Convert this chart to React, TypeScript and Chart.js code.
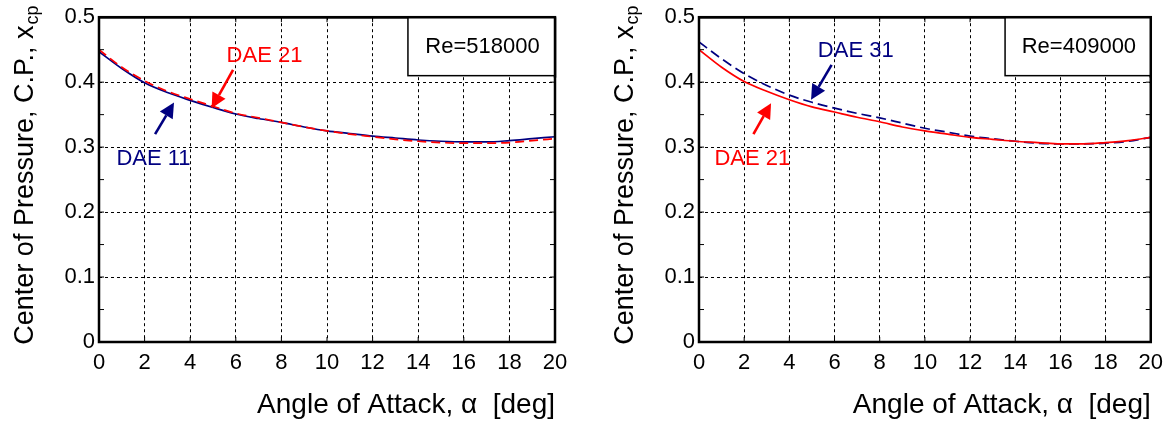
import React, { useEffect, useRef } from 'react';
import { Chart, registerables } from 'chart.js';

Chart.register(...registerables);

// ---- Data ----
const ALPHA = [0, 1, 2, 3, 4, 5, 6, 7, 8, 9, 10, 11, 12, 13, 14, 15, 16, 17, 18, 19, 20];
const CP_DAE11_RE518K = [0.447, 0.421, 0.399, 0.384, 0.372, 0.361, 0.351, 0.344, 0.338, 0.331, 0.325, 0.321, 0.317, 0.314, 0.311, 0.309, 0.308, 0.308, 0.310, 0.313, 0.316];
const CP_DAE21_RE518K = [0.450, 0.423, 0.402, 0.386, 0.374, 0.363, 0.352, 0.345, 0.338, 0.331, 0.325, 0.320, 0.316, 0.312, 0.309, 0.307, 0.306, 0.306, 0.307, 0.310, 0.313];
const CP_DAE21_RE409K = [0.450, 0.423, 0.401, 0.386, 0.373, 0.362, 0.354, 0.346, 0.339, 0.331, 0.325, 0.320, 0.315, 0.312, 0.309, 0.307, 0.305, 0.305, 0.307, 0.310, 0.315];
const CP_DAE31_RE409K = [0.462, 0.436, 0.413, 0.395, 0.380, 0.369, 0.360, 0.352, 0.345, 0.337, 0.329, 0.323, 0.317, 0.313, 0.309, 0.306, 0.305, 0.305, 0.306, 0.309, 0.315];
const X_TICKS = [0, 2, 4, 6, 8, 10, 12, 14, 16, 18, 20];
const Y_TICKS = [0, 0.1, 0.2, 0.3, 0.4, 0.5];
const Y_MINOR = [0.05, 0.15, 0.25, 0.35, 0.45];
const RE_LABELS = ['Re=518000', 'Re=409000'];
const X_TITLE = 'Angle of Attack, \u03b1  [deg]';
const Y_TITLE_MAIN = 'Center of Pressure, C.P., x';
const Y_TITLE_SUB = 'cp';

const RED = '#ff0000';
const NAVY = '#000080';
const FONT = '"Liberation Sans", Arial, Helvetica, sans-serif';

type Ann = { text: string; color: string; tx: number; ty: number; ax0: number; ay0: number; ax1: number; ay1: number };

const PANELS = [
  {
    left: 0,
    width: 600,
    padRight: 45,
    re: RE_LABELS[0],
    series: [
      { values: CP_DAE21_RE518K, color: RED, dash: [9, 5] },
      { values: CP_DAE11_RE518K, color: NAVY, dash: [] as number[] },
    ],
    anns: [
      { text: 'DAE 21', color: RED, tx: 7.26, ty: 0.442, ax0: 5.88, ay0: 0.419, ax1: 4.94, ay1: 0.360 },
      { text: 'DAE 11', color: NAVY, tx: 2.39, ty: 0.283, ax0: 2.46, ay0: 0.320, ax1: 3.29, ay1: 0.3686 },
    ] as Ann[],
  },
  {
    left: 600,
    width: 571,
    padRight: 17,
    re: RE_LABELS[1],
    series: [
      { values: CP_DAE21_RE409K, color: RED, dash: [] as number[] },
      { values: CP_DAE31_RE409K, color: NAVY, dash: [10, 5] },
    ],
    anns: [
      { text: 'DAE 31', color: NAVY, tx: 6.94, ty: 0.450, ax0: 5.87, ay0: 0.4266, ax1: 4.96, ay1: 0.3728 },
      { text: 'DAE 21', color: RED, tx: 2.36, ty: 0.283, ax0: 2.41, ay0: 0.320, ax1: 3.19, ay1: 0.3677 },
    ] as Ann[],
  },
];

function makeDecor(panel: typeof PANELS[number]) {
  return {
    id: 'decor',
    afterDraw(chart: any) {
      const { ctx, chartArea: a, scales } = chart;
      const xs = scales.x;
      const ys = scales.y;
      const line = (x0: number, y0: number, x1: number, y1: number) => {
        ctx.beginPath();
        ctx.moveTo(x0, y0);
        ctx.lineTo(x1, y1);
        ctx.stroke();
      };
      ctx.save();
      ctx.setLineDash([]);
      ctx.strokeStyle = '#000';
      ctx.lineWidth = 1;
      // inner ticks
      const tl = 5;
      [...Y_TICKS, ...Y_MINOR].forEach((v) => {
        const py = ys.getPixelForValue(v);
        line(a.left, py, a.left + tl, py);
        line(a.right - tl, py, a.right, py);
      });
      X_TICKS.forEach((v) => {
        const px = xs.getPixelForValue(v);
        line(px, a.bottom, px, a.bottom - tl);
        line(px, a.top, px, a.top + tl);
      });
      // frame
      ctx.lineWidth = 2.5;
      ctx.strokeRect(a.left, a.top, a.right - a.left, a.bottom - a.top);

      // Re box
      const bx0 = xs.getPixelForValue(13.55);
      const by1 = ys.getPixelForValue(0.41);
      ctx.fillStyle = '#fff';
      ctx.fillRect(bx0, a.top, a.right - bx0, by1 - a.top);
      ctx.lineWidth = 1.5;
      ctx.strokeRect(bx0, a.top, a.right - bx0, by1 - a.top);
      ctx.lineWidth = 2.5;
      line(a.left, a.top, a.right, a.top);
      line(a.right, a.top, a.right, by1 + 2);
      ctx.fillStyle = '#000';
      ctx.font = `22px ${FONT}`;
      ctx.textAlign = 'center';
      ctx.textBaseline = 'middle';
      ctx.fillText(panel.re, (bx0 + a.right) / 2 + 1, (a.top + by1) / 2 + 1);

      // annotations
      panel.anns.forEach((an) => {
        ctx.fillStyle = an.color;
        ctx.strokeStyle = an.color;
        ctx.font = `22px ${FONT}`;
        ctx.textAlign = 'center';
        ctx.textBaseline = 'middle';
        ctx.fillText(an.text, xs.getPixelForValue(an.tx), ys.getPixelForValue(an.ty) + 1);
        const x0 = xs.getPixelForValue(an.ax0);
        const y0 = ys.getPixelForValue(an.ay0);
        const x1 = xs.getPixelForValue(an.ax1);
        const y1 = ys.getPixelForValue(an.ay1);
        const ang = Math.atan2(y1 - y0, x1 - x0);
        const hl = 15;
        const hw = 7.5;
        const bxh = x1 - hl * Math.cos(ang);
        const byh = y1 - hl * Math.sin(ang);
        ctx.lineWidth = 2.6;
        line(x0, y0, bxh, byh);
        ctx.beginPath();
        ctx.moveTo(x1, y1);
        ctx.lineTo(bxh + hw * Math.sin(ang), byh - hw * Math.cos(ang));
        ctx.lineTo(bxh - hw * Math.sin(ang), byh + hw * Math.cos(ang));
        ctx.closePath();
        ctx.fill();
      });

      // y title with subscript
      ctx.fillStyle = '#000';
      const mainFont = `27px ${FONT}`;
      const subFont = `18px ${FONT}`;
      ctx.font = mainFont;
      const wMain = ctx.measureText(Y_TITLE_MAIN).width;
      ctx.font = subFont;
      const wSub = ctx.measureText(Y_TITLE_SUB).width;
      const total = wMain + wSub;
      const cy = (a.top + a.bottom) / 2 - 4;
      ctx.translate(33, cy);
      ctx.rotate(-Math.PI / 2);
      ctx.textAlign = 'left';
      ctx.textBaseline = 'alphabetic';
      ctx.font = mainFont;
      ctx.fillText(Y_TITLE_MAIN, -total / 2, 0);
      ctx.font = subFont;
      ctx.fillText(Y_TITLE_SUB, -total / 2 + wMain + 1, 5);
      ctx.restore();
    },
  };
}

function Panel({ panel }: { panel: typeof PANELS[number] }) {
  const ref = useRef<HTMLCanvasElement | null>(null);
  useEffect(() => {
    if (!ref.current) return;
    const chart = new Chart(ref.current, {
      type: 'line',
      data: {
        datasets: panel.series.map((s) => ({
          data: ALPHA.map((x, i) => ({ x, y: s.values[i] })),
          borderColor: s.color,
          backgroundColor: s.color,
          borderWidth: 1.7,
          borderDash: s.dash,
          pointRadius: 0,
          fill: false,
          cubicInterpolationMode: 'monotone' as const,
        })),
      },
      options: {
        responsive: false,
        animation: false,
        layout: { padding: { left: 0, top: 17, right: panel.padRight, bottom: 0 } },
        plugins: { legend: { display: false }, tooltip: { enabled: false } },
        scales: {
          x: {
            type: 'linear',
            min: 0,
            max: 20,
            afterBuildTicks: (scale: any) => {
              scale.ticks = X_TICKS.map((v) => ({ value: v }));
            },
            afterFit: (scale: any) => {
              scale.height = 81;
            },
            ticks: {
              autoSkip: false,
              maxRotation: 0,
              padding: 8,
              color: '#000',
              font: { family: FONT, size: 22 },
              callback: (v: any) => String(v),
            },
            grid: { color: '#000', lineWidth: 1, drawTicks: false },
            border: { display: false, dash: [3, 3] },
            title: {
              display: true,
              text: X_TITLE,
              align: 'end',
              color: '#000',
              font: { family: FONT, size: 28 },
              padding: { top: 0, bottom: 1 },
            },
          },
          y: {
            type: 'linear',
            min: 0,
            max: 0.5,
            afterBuildTicks: (scale: any) => {
              scale.ticks = Y_TICKS.map((v) => ({ value: v }));
            },
            afterFit: (scale: any) => {
              scale.width = 99;
            },
            ticks: {
              padding: 4,
              color: '#000',
              font: { family: FONT, size: 22 },
              callback: (v: any) => (v === 0 ? '0' : Number(v).toFixed(1)),
            },
            grid: { color: '#000', lineWidth: 1, drawTicks: false },
            border: { display: false, dash: [3, 3] },
          },
        },
      } as any,
      plugins: [makeDecor(panel)],
    });
    return () => chart.destroy();
  }, [panel]);
  return (
    <canvas
      ref={ref}
      width={panel.width}
      height={423}
      style={{ position: 'absolute', left: panel.left, top: 0, width: panel.width, height: 423 }}
    />
  );
}

export default function App() {
  return (
    <div style={{ position: 'absolute', left: 0, top: 0, width: 1171, height: 423, background: '#fff', overflow: 'hidden' }}>
      {PANELS.map((p, i) => (
        <Panel key={i} panel={p} />
      ))}
    </div>
  );
}
